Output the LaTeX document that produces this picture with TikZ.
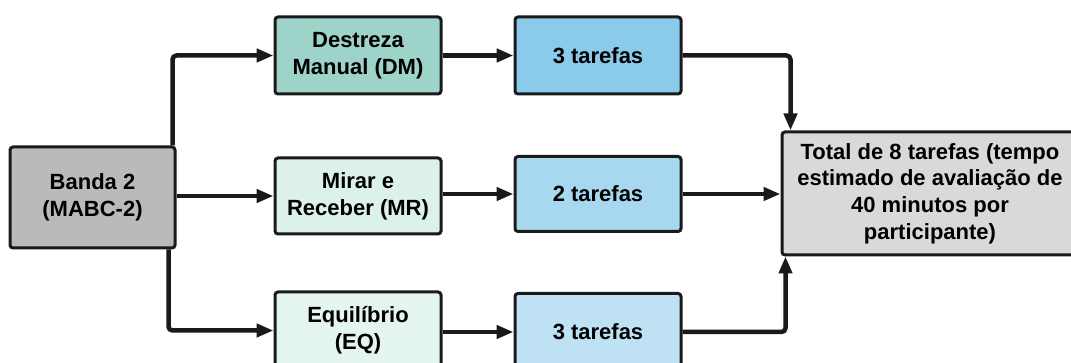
\documentclass[tikz,border=0pt]{standalone}
\usepackage{fontspec}
\setmainfont{Liberation Sans}
\usetikzlibrary{arrows.meta}
\definecolor{edge}{HTML}{1A1A1A}
\definecolor{bandafill}{HTML}{BABABA}
\definecolor{dmfill}{HTML}{9DD3C8}
\definecolor{mrfill}{HTML}{DCF0EC}
\definecolor{eqfill}{HTML}{E3F4F1}
\definecolor{taskA}{HTML}{8ACBEB}
\definecolor{taskB}{HTML}{A8D8EF}
\definecolor{taskC}{HTML}{BEE2F3}
\definecolor{totalfill}{HTML}{D9D9D9}
\tikzset{
  box/.style={draw=edge, line width=3pt, rounded corners=3pt, align=center,
    inner sep=0pt, font=\fontsize{22}{26.7}\selectfont\bfseries, text=black},
  arr/.style={draw=edge, line width=4.5pt, rounded corners=4pt,
    -{Triangle[length=17pt,width=13pt]}},
}
\begin{document}
\begin{tikzpicture}[x=1pt,y=-1pt]
\useasboundingbox (0,0) rectangle (1071,363);
\clip (0,0) rectangle (1071,363);
\fill[white] (0,0) rectangle (1071,363);

% source box
\node[box, fill=bandafill, minimum width=165pt, minimum height=101pt] (banda) at (92.5,197.5) {Banda 2\\(MABC-2)};

% skill areas
\node[box, fill=dmfill, minimum width=166pt, minimum height=77pt] (dm) at (358,55.5) {Destreza\\Manual (DM)};
\node[box, fill=mrfill, minimum width=166pt, minimum height=76pt] (mr) at (358,196) {Mirar e\\Receber (MR)};
\node[box, fill=eqfill, minimum width=166pt, minimum height=77pt] (eq) at (358,330.5) {Equilíbrio\\(EQ)};

% task counts
\node[box, fill=taskA, minimum width=166pt, minimum height=77pt] (t1) at (598,55.5) {3 tarefas};
\node[box, fill=taskB, minimum width=166pt, minimum height=75pt] (t2) at (598,194) {2 tarefas};
\node[box, fill=taskC, minimum width=166pt, minimum height=77pt] (t3) at (598,332) {3 tarefas};

% total
\node[box, fill=totalfill, minimum width=296pt, minimum height=123pt] (total) at (930,193.5)
  {Total de 8 tarefas (tempo\\estimado de avaliação de\\40 minutos por\\participante)};

% connectors
\draw[arr] ([xshift=-4pt]banda.north east) |- (dm.west);
\draw[arr] (banda.east |- mr.west) -- (mr.west);
\draw[arr] ([xshift=-8pt]banda.south east) |- (eq.west);

\draw[arr] (dm.east) -- (t1.west |- dm.east);
\draw[arr] (mr.east |- t2.west) -- (t2.west);
\draw[arr] (eq.east |- t3.west) -- (t3.west);

\draw[arr] (t1.east) -| ([xshift=10pt]total.north west);
\draw[arr] (t2.east) -- (total.west |- t2.east);
\draw[arr] (t3.east) -| ([xshift=5pt]total.south west);
\end{tikzpicture}
\end{document}
